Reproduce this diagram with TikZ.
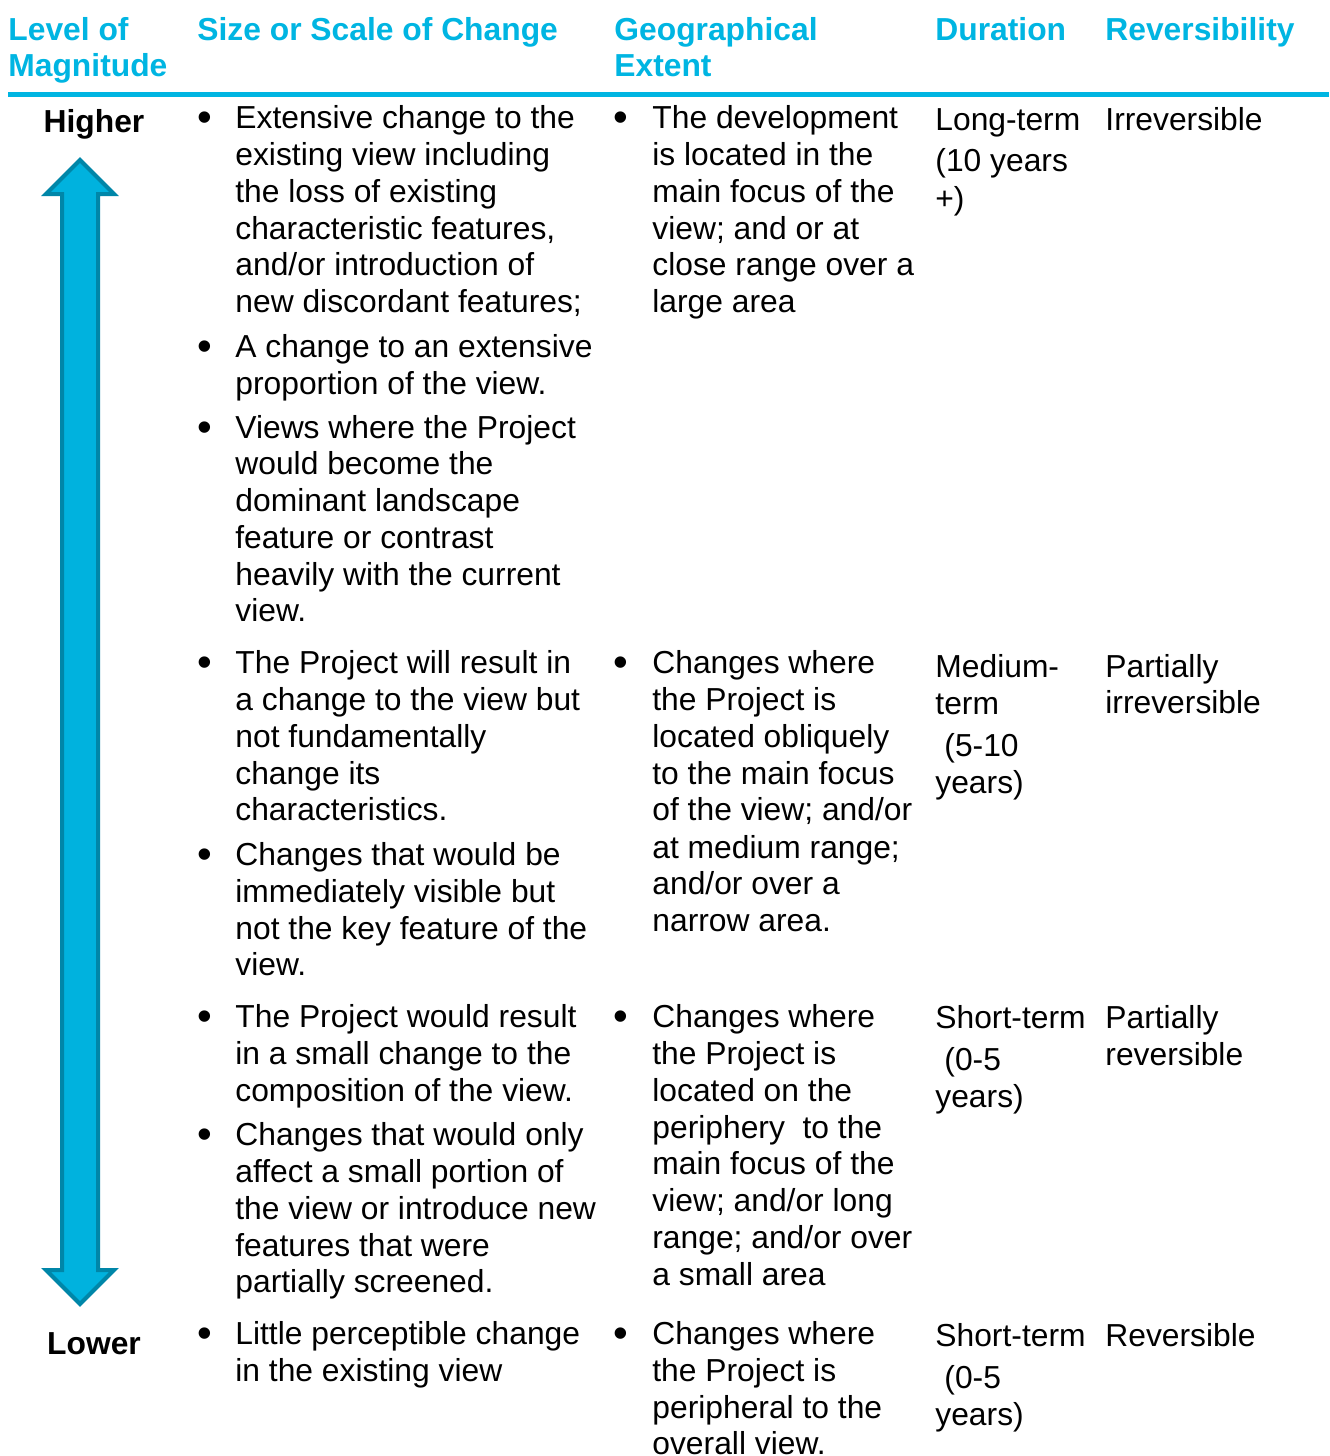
\documentclass[tikz,border=0pt]{standalone}
\usepackage{fontspec}
\setmainfont{Liberation Sans}
\definecolor{hdr}{RGB}{0,181,226}
\definecolor{arrfill}{RGB}{0,178,222}
\definecolor{arrline}{RGB}{0,134,168}
\begin{document}
\begin{tikzpicture}[x=0.5pt,y=-0.5pt,
 txt/.style={anchor=base west,inner sep=0pt,font=\fontsize{15.9}{18}\selectfont},
 hd/.style={anchor=base west,inner sep=0pt,font=\fontsize{15.9}{18}\selectfont\bfseries,text=hdr},
 bul/.style={anchor=base,inner sep=0pt,font=\fontsize{21}{24}\selectfont},
 lvl/.style={anchor=base,inner sep=0pt,font=\fontsize{15.9}{18}\selectfont\bfseries},
 rule/.style={draw=hdr,line width=2.5pt},
 bigarrow/.style={fill=arrfill,draw=arrline,line width=2pt,line join=miter}]
\useasboundingbox (0,0) rectangle (1329,1456);
\fill[white] (0,0) rectangle (1329,1456);

% header
\node[hd] (h1a) at (8,40) {Level of};
\node[hd] (h1b) at (8,76) {Magnitude};
\node[hd] (h2) at (197,40) {Size or Scale of Change};
\node[hd] (h3a) at (614,40) {Geographical};
\node[hd] (h3b) at (614,76) {Extent};
\node[hd] (h4) at (935,40) {Duration};
\node[hd] (h5) at (1105,40) {Reversibility};
\coordinate (rl) at (8,94.5);
\coordinate (rr) at (1329,94.5);
\draw[rule] (rl) -- (rr);

% level column
\node[lvl] (hi) at (94,132) {Higher};
\node[lvl] (lo) at (94,1354) {Lower};
\draw[bigarrow] (80,160) -- (114,194) -- (98,194) -- (98,1270) -- (114,1270)
  -- (80,1304) -- (46,1270) -- (62,1270) -- (62,194) -- (46,194) -- cycle;

% bullets
\foreach \y [count=\i] in {128,357,438,673,865,1027,1145,1344}
  \node[bul] (b2-\i) at (205,\y+3) {\textbullet};
\foreach \y [count=\i] in {128,673,1027,1344}
  \node[bul] (b3-\i) at (621,\y+3) {\textbullet};

% size or scale column
\foreach \y/\t [count=\i] in {
 128/{Extensive change to the},
 165/{existing view including},
 202/{the loss of existing},
 239/{characteristic features,},
 275/{and/or introduction of},
 312/{new discordant features;},
 357/{A change to an extensive},
 394/{proportion of the view.},
 438/{Views where the Project},
 474/{would become the},
 511/{dominant landscape},
 548/{feature or contrast},
 585/{heavily with the current},
 621/{view.},
 673/{The Project will result in},
 710/{a change to the view but},
 747/{not fundamentally},
 784/{change its},
 820/{characteristics.},
 865/{Changes that would be},
 902/{immediately visible but},
 939/{not the key feature of the},
 975/{view.},
 1027/{The Project would result},
 1064/{in a small change to the},
 1101/{composition of the view.},
 1145/{Changes that would only},
 1182/{affect a small portion of},
 1219/{the view or introduce new},
 1256/{features that were},
 1292/{partially screened.},
 1344/{Little perceptible change},
 1381/{in the existing view}}
  \node[txt] (s-\i) at (235,\y) {\t};

% geographical extent column
\foreach \y/\t [count=\i] in {
 128/{The development},
 165/{is located in the},
 202/{main focus of the},
 239/{view; and or at},
 275/{close range over a},
 312/{large area},
 673/{Changes where},
 710/{the Project is},
 747/{located obliquely},
 784/{to the main focus},
 820/{of the view; and/or},
 858/{at medium range;},
 894/{and/or over a},
 931/{narrow area.},
 1027/{Changes where},
 1064/{the Project is},
 1101/{located on the},
 1138/{periphery\ \ to the},
 1174/{main focus of the},
 1211/{view; and/or long},
 1248/{range; and/or over},
 1285/{a small area},
 1344/{Changes where},
 1381/{the Project is},
 1418/{peripheral to the},
 1454/{overall view.}}
  \node[txt] (g-\i) at (652,\y) {\t};

% duration column
\foreach \x/\y/\t [count=\i] in {
 935/130/{Long-term},
 935/171/{(10 years},
 935/209/{+)},
 935/677/{Medium-},
 935/714/{term},
 944/756/{(5-10},
 935/793/{years)},
 935/1028/{Short-term},
 944/1070/{(0-5},
 935/1107/{years)},
 935/1346/{Short-term},
 944/1388/{(0-5},
 935/1425/{years)}}
  \node[txt] (d-\i) at (\x,\y) {\t};

% reversibility column
\foreach \y/\t [count=\i] in {
 130/{Irreversible},
 677/{Partially},
 713/{irreversible},
 1028/{Partially},
 1065/{reversible},
 1346/{Reversible}}
  \node[txt] (r-\i) at (1105,\y) {\t};
\end{tikzpicture}
\end{document}
